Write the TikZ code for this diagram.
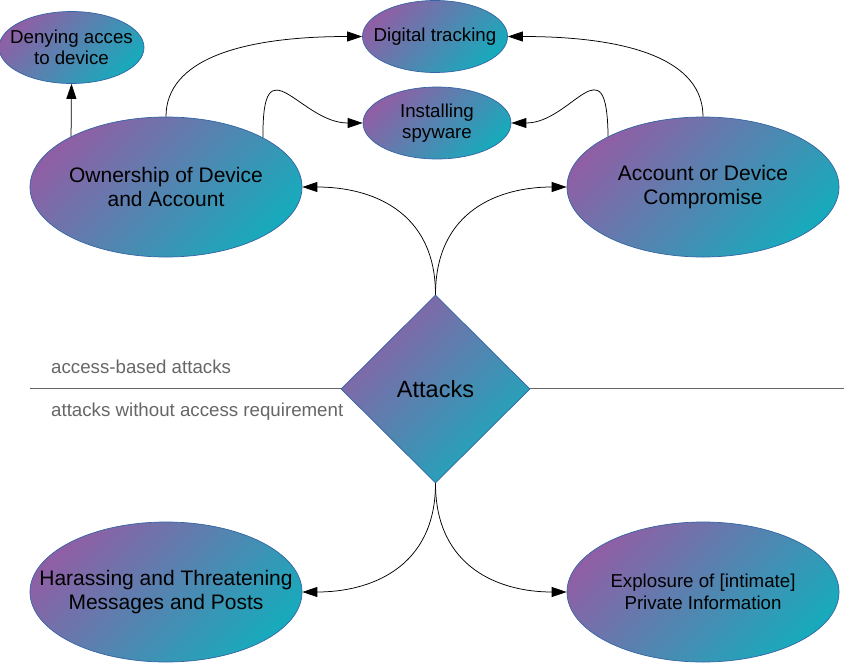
\documentclass[tikz,border=0pt]{standalone}
\usepackage{fontspec}
\setmainfont{Liberation Sans}
\usetikzlibrary{shapes.geometric,arrows.meta}
\definecolor{cpurple}{RGB}{143,95,165}
\definecolor{cteal}{RGB}{24,170,188}
\definecolor{cborder}{RGB}{52,101,164}
\definecolor{cgray}{RGB}{102,102,102}
\begin{document}
\begin{tikzpicture}[x=1pt,y=-1pt,
  grad/.style={draw=cborder, line width=0.7pt, top color=cpurple, bottom color=cteal, shading angle=45, inner sep=0pt},
  bigell/.style={grad, ellipse, minimum width=272pt, minimum height=140pt},
  smallell/.style={grad, ellipse, minimum width=145pt, minimum height=72pt},
  bigtext/.style={align=center, inner sep=0pt, text=black, font=\fontsize{21}{23.5}\selectfont},
  smalltext/.style={align=center, inner sep=0pt, text=black, font=\fontsize{18.7}{21.5}\selectfont},
  conn/.style={draw=black, line width=0.75pt, -{Triangle[length=15pt,width=10pt]}},
  sublabel/.style={text=cgray, font=\fontsize{18.7}{21}\selectfont, anchor=west, inner sep=0pt},
  sepline/.style={draw=cgray, line width=1pt}]
\useasboundingbox (0,0) rectangle (844,662);

% separator line
\coordinate (hl) at (30,388);
\coordinate (hr) at (844,388);
\draw[sepline] (hl) -- (hr);
\node[sublabel] (l1) at (51,367) {access-based attacks};
\node[sublabel] (l2) at (51,412) {attacks without access requirement};

% shapes
\node[smallell] (dn) at (71.5,47.5) {};
\node[smallell] (dt) at (435,36.5) {};
\node[smallell, minimum width=148pt] (sp) at (437,123) {};
\node[bigell] (own) at (166,187) {};
\node[bigell] (acc) at (703,187) {};
\node[bigell] (har) at (166,592) {};
\node[bigell] (exp) at (703,592) {};
\node[grad, diamond, aspect=1, minimum width=189pt, minimum height=188pt] (att) at (435.5,389) {};

% texts
\node[smalltext] (dnt) at (dn) {Denying acces\\to device};
\node[smalltext] (dtt) at (dt) {Digital tracking};
\node[smalltext] (spt) at (sp) {Installing\\spyware};
\node[bigtext] (ownt) at (own) {Ownership of Device\\and Account};
\node[bigtext] (acct) at (acc) {Account or Device\\Compromise};
\node[bigtext] (hart) at (har) {Harassing and Threatening\\Messages and Posts};
\node[smalltext, font=\fontsize{18.7}{22}\selectfont] (expt) at (exp) {Explosure of [intimate]\\Private Information};
\node[inner sep=0pt, text=black, font=\fontsize{23.5}{26}\selectfont] (attt) at (att) {Attacks};

% connectors
\draw[conn] (own.152.2) -- (dn.south);
\draw[conn] (own.north) .. controls (166,60) and (240,36.5) .. (dt.west);
\draw[conn] (acc.north) .. controls (703,60) and (630,36.5) .. (dt.east);
\draw[conn] (own.27.3) .. controls (262,40) and (300,123) .. (sp.west);
\draw[conn] (acc.152.7) .. controls (607,40) and (572,123) .. (sp.east);
\draw[conn] (att.north) .. controls (435.5,210) and (370,187) .. (own.east);
\draw[conn] (att.north) .. controls (435.5,210) and (500,187) .. (acc.west);
\draw[conn] (att.south) .. controls (435.5,568) and (370,592) .. (har.east);
\draw[conn] (att.south) .. controls (435.5,568) and (500,592) .. (exp.west);
\end{tikzpicture}
\end{document}
